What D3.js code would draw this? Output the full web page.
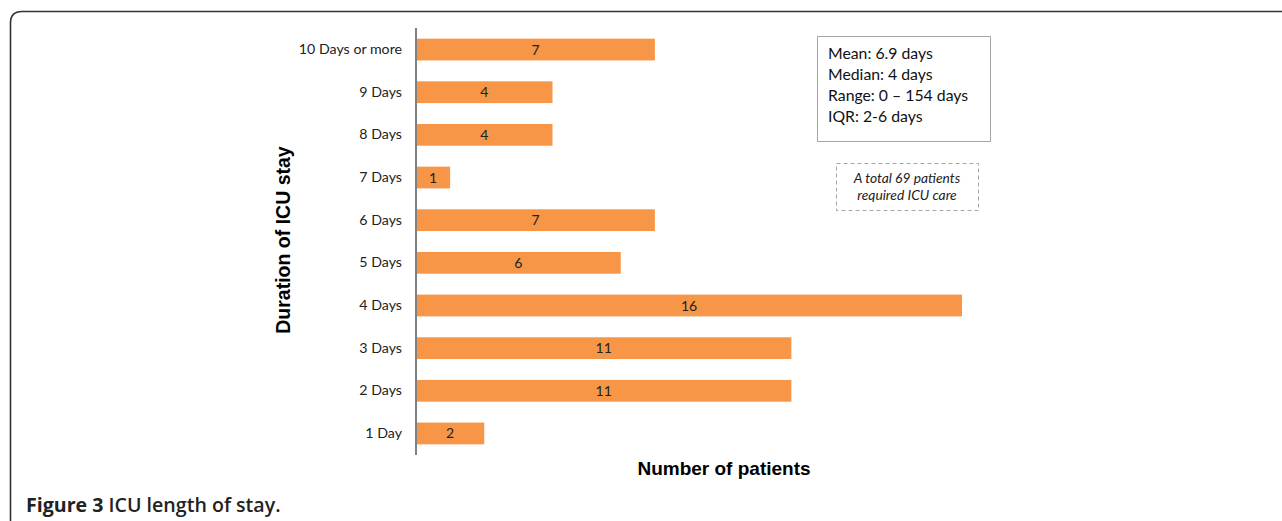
<!DOCTYPE html>
<html>
<head>
<meta charset="utf-8">
<script src="https://cdn.jsdelivr.net/npm/d3@7"></script>
<style>
  body { margin: 0; background: #fff; }
  svg { display: block; }
</style>
</head>
<body>
<div class="canvas"></div>
<script>
// ---- DATA --- //
const categories = ['10 Days or more', '9 Days', '8 Days', '7 Days', '6 Days',
    '5 Days', '4 Days', '3 Days', '2 Days', '1 Day'];
const patients = [7, 4, 4, 1, 7, 6, 16, 11, 11, 2];
const statLines = ['Mean: 6.9 days', 'Median: 4 days', 'Range: 0 \u2013 154 days', 'IQR: 2-6 days'];
const noteLines = ['A total 69 patients', 'required ICU care'];

// ---- SVG SETUP --- //
const width = 1282, height = 521;
const svg = d3.select('.canvas')
    .append('svg')
    .attr('width', width)
    .attr('height', height);

// figure frame (top + left, rounded corner)
svg.append('path')
    .attr('d', 'M1282,11.5 L22,11.5 Q10.5,11.5 10.5,23 L10.5,530')
    .attr('fill', 'none')
    .attr('stroke', '#333')
    .attr('stroke-width', 1.6);

const margin = { top: 28, left: 416 };
const graphHeight = 427;

const graph = svg.append('g')
    .attr('transform', `translate(${margin.left},${margin.top})`);

// ---- SCALES --- //
const x = d3.scaleLinear().domain([0, 16]).range([0, 546]);
const y = d3.scaleBand().domain(categories).range([0, graphHeight]).paddingInner(0.49).paddingOuter(0.25);

// ---- BARS --- //
graph.selectAll('rect.bar')
    .data(categories)
    .enter().append('rect')
    .attr('class', 'bar')
    .attr('x', 0)
    .attr('y', d => y(d))
    .attr('width', (d, i) => x(patients[i]))
    .attr('height', y.bandwidth())
    .attr('fill', '#F79646');

graph.selectAll('text.val')
    .data(categories)
    .enter().append('text')
    .attr('class', 'val')
    .attr('x', (d, i) => x(patients[i]) / 2)
    .attr('y', d => y(d) + y.bandwidth() / 2)
    .attr('dy', '0.36em')
    .attr('text-anchor', 'middle')
    .style('font-family', 'Lato, "Open Sans", sans-serif')
    .style('font-size', '14px')
    .attr('fill', '#222')
    .text((d, i) => patients[i]);

// ---- AXIS --- //
const yAxis = d3.axisLeft(y).tickSize(0).tickPadding(14);
const yAxisGroup = graph.append('g').call(yAxis);
yAxisGroup.select('.domain')
    .attr('d', `M0,0V${graphHeight}`)
    .attr('stroke', '#808080')
    .attr('stroke-width', 2);
yAxisGroup.selectAll('text')
    .style('font-family', 'Lato, "Open Sans", sans-serif')
    .style('font-size', '14.2px')
    .attr('fill', '#222');

// axis titles
svg.append('text')
    .attr('transform', 'translate(290,240) rotate(-90)')
    .attr('text-anchor', 'middle')
    .style('font-family', '"Liberation Sans", Arial, sans-serif')
    .style('font-size', '19.5px')
    .style('font-weight', 'bold')
    .text('Duration of ICU stay');

svg.append('text')
    .attr('x', 724)
    .attr('y', 475)
    .attr('text-anchor', 'middle')
    .style('font-family', '"Liberation Sans", Arial, sans-serif')
    .style('font-size', '19px')
    .style('font-weight', 'bold')
    .text('Number of patients');

// ---- STATS BOX --- //
svg.append('rect')
    .attr('x', 817.5).attr('y', 36.5)
    .attr('width', 173).attr('height', 105)
    .attr('fill', '#fff')
    .attr('stroke', '#a6a6a6');

svg.selectAll('text.stat')
    .data(statLines)
    .enter().append('text')
    .attr('class', 'stat')
    .attr('x', 828)
    .attr('y', (d, i) => 59 + i * 21)
    .style('font-family', 'Lato, "Open Sans", sans-serif')
    .style('font-size', '15.8px')
    .attr('fill', '#111')
    .text(d => d);

// ---- NOTE BOX --- //
svg.append('rect')
    .attr('x', 836.5).attr('y', 163.5)
    .attr('width', 142).attr('height', 47)
    .attr('fill', '#fff')
    .attr('stroke', '#a6a6a6')
    .attr('stroke-dasharray', '4,3');

svg.selectAll('text.note')
    .data(noteLines)
    .enter().append('text')
    .attr('class', 'note')
    .attr('x', 907)
    .attr('y', (d, i) => 183 + i * 17)
    .attr('text-anchor', 'middle')
    .style('font-family', 'Lato, "Open Sans", sans-serif')
    .style('font-size', '13.8px')
    .style('font-style', 'italic')
    .attr('fill', '#222')
    .text(d => d);

// ---- CAPTION --- //
const cap = svg.append('text')
    .attr('x', 26)
    .attr('y', 512)
    .style('font-family', '"Open Sans", Lato, sans-serif')
    .style('font-size', '19.6px')
    .attr('fill', '#222');
cap.append('tspan').style('font-weight', 'bold').text('Figure 3 ');
cap.append('tspan').style('font-weight', 600).text('ICU length of stay.');
</script>
</body>
</html>
